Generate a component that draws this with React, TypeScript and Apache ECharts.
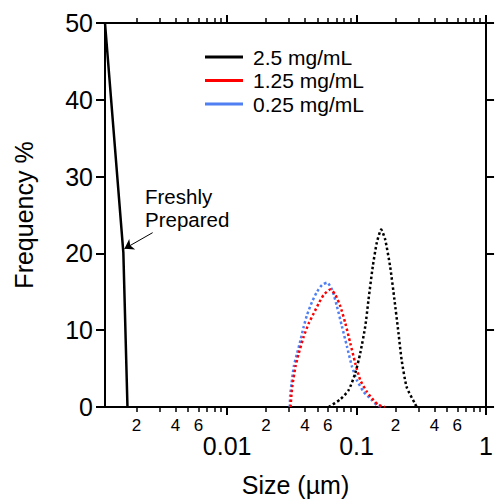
import React, { useEffect, useRef } from 'react';
import * as echarts from 'echarts';

const FONT = '"Liberation Sans", Arial, Helvetica, sans-serif';

// Axis ranges
const X_MIN = 0.00114;
const X_MAX = 1;
const Y_MIN = 0;
const Y_MAX = 50;
const Y_INTERVAL = 10;

// Tick values (log axis)
const minorTickValues = [
  0.002, 0.003, 0.004, 0.005, 0.006, 0.007, 0.008, 0.009,
  0.02, 0.03, 0.04, 0.05, 0.06, 0.07, 0.08, 0.09,
  0.2, 0.3, 0.4, 0.5, 0.6, 0.7, 0.8, 0.9,
];
const minorLabelValues = [0.002, 0.004, 0.006, 0.02, 0.04, 0.06, 0.2, 0.4, 0.6];
const majorTickValues = [0.01, 0.1, 1];

// Legend names
const names = ['2.5 mg/mL', '1.25 mg/mL', '0.25 mg/mL'];

// 2.5 mg/mL, freshly prepared (solid)
const freshSize = [0.00114, 0.00158, 0.0017];
const freshFreq = [50, 20.1, 0];

// 2.5 mg/mL, dotted black curve
const blackSize = [0.0609, 0.0749, 0.0868, 0.0977, 0.1067, 0.1167, 0.1237, 0.1334, 0.1433, 0.1549, 0.1663, 0.1816, 0.196, 0.2105, 0.223, 0.2438, 0.283, 0.291];
const blackFreq = [0, 1.0, 2.2, 4.4, 7.0, 10.5, 14, 18.3, 21.4, 23.1, 21.8, 18.3, 14, 9.7, 6.1, 2.6, 0.4, 0];

// 1.25 mg/mL (red dotted)
const redSize = [0.0309, 0.0313, 0.0318, 0.03378, 0.03579, 0.03911, 0.04273, 0.0467, 0.05101, 0.05574, 0.06277, 0.06859, 0.07492, 0.08187, 0.08944, 0.09772, 0.1068, 0.12, 0.1351, 0.1476, 0.165];
const redFreq = [0, 1.3, 2.6, 5.3, 7.0, 9.2, 10.9, 12.2, 13.5, 14.6, 15.3, 14.6, 13.1, 10.9, 8.3, 5.7, 3.5, 2.0, 0.9, 0.26, 0];

// 0.25 mg/mL (blue dotted)
const blueSize = [0.0305, 0.0307, 0.03147, 0.03277, 0.03474, 0.03689, 0.03911, 0.04147, 0.04532, 0.0495, 0.05409, 0.05909, 0.06457, 0.07055, 0.07707, 0.08423, 0.09202, 0.1005, 0.1132, 0.1311, 0.1433, 0.16];
const blueFreq = [0, 1.5, 3.1, 5.3, 7.0, 8.7, 10.5, 12.0, 13.7, 15.0, 15.9, 16.2, 15.3, 13.1, 10.5, 7.9, 5.3, 3.5, 2.0, 0.9, 0.26, 0];

// Annotation
const annotationText = 'Freshly\nPrepared';
const arrowFrom = [0.00266, 22.7];
const arrowTo = [0.00161, 20.6];

const zip = (xs: number[], ys: number[]) => xs.map((x, i) => [x, ys[i]]);

const mantissa = (v: number) => {
  const e = Math.floor(Math.log10(v) + 1e-9);
  return String(Math.round(v / Math.pow(10, e)));
};
const majorFmt = (v: number) => String(Number(Number(v).toPrecision(6)));

export default function App() {
  const ref = useRef<HTMLDivElement>(null);

  useEffect(() => {
    if (!ref.current) return;
    const chart = echarts.init(ref.current, undefined, { renderer: 'svg' });

    const xBase = {
      type: 'log' as const,
      logBase: 10,
      min: X_MIN,
      max: X_MAX,
      gridIndex: 0,
      splitLine: { show: false },
      minorTick: { show: false },
      minorSplitLine: { show: false },
    };
    const black = '#000';

    const option: any = {
      animation: false,
      backgroundColor: '#fff',
      grid: { left: 105, right: 7, top: 23, bottom: 97, containLabel: false },
      legend: {
        show: true,
        orient: 'vertical',
        left: 200,
        top: 41,
        itemWidth: 38,
        itemHeight: 3,
        itemGap: 1.5,
        icon: 'rect',
        selectedMode: false,
        textStyle: { fontSize: 21, color: black, fontFamily: FONT, lineHeight: 22, padding: [0, 0, 0, 5] },
        data: names,
      },
      xAxis: [
        {
          ...xBase,
          position: 'bottom',
          axisLine: { show: true, lineStyle: { color: black, width: 2 } },
          axisTick: { show: true, inside: false, length: 5, lineStyle: { color: black, width: 1.5 }, customValues: minorTickValues },
          axisLabel: { show: true, customValues: minorLabelValues, formatter: mantissa, fontSize: 17, color: black, fontFamily: FONT, margin: 10 },
          name: 'Size (µm)',
          nameLocation: 'middle',
          nameGap: 65,
          nameTextStyle: { fontSize: 25, color: black, fontFamily: FONT },
        },
        {
          ...xBase,
          position: 'bottom',
          axisLine: { show: false },
          axisTick: { show: true, inside: false, length: 8, lineStyle: { color: black, width: 2 }, customValues: majorTickValues },
          axisLabel: { show: true, customValues: majorTickValues, formatter: majorFmt, fontSize: 25, color: black, fontFamily: FONT, margin: 26 },
        },
        {
          ...xBase,
          position: 'top',
          axisLine: { show: true, lineStyle: { color: black, width: 2 } },
          axisTick: { show: true, inside: false, length: 5, lineStyle: { color: black, width: 1.5 }, customValues: minorTickValues },
          axisLabel: { show: false },
        },
        {
          ...xBase,
          position: 'top',
          axisLine: { show: false },
          axisTick: { show: true, inside: false, length: 8, lineStyle: { color: black, width: 2 }, customValues: majorTickValues },
          axisLabel: { show: false },
        },
      ],
      yAxis: [
        {
          type: 'value',
          min: Y_MIN,
          max: Y_MAX,
          interval: Y_INTERVAL,
          position: 'left',
          splitLine: { show: false },
          axisLine: { show: true, lineStyle: { color: black, width: 2 } },
          axisTick: { show: true, inside: false, length: 9, lineStyle: { color: black, width: 2 } },
          axisLabel: { show: true, fontSize: 25, color: black, fontFamily: FONT, margin: 12 },
          name: 'Frequency %',
          nameLocation: 'middle',
          nameGap: 69,
          nameRotate: 90,
          nameTextStyle: { fontSize: 25, color: black, fontFamily: FONT },
        },
        {
          type: 'value',
          min: Y_MIN,
          max: Y_MAX,
          interval: Y_INTERVAL,
          position: 'right',
          splitLine: { show: false },
          axisLine: { show: true, lineStyle: { color: black, width: 2 } },
          axisTick: { show: true, inside: false, length: 8, lineStyle: { color: black, width: 2 } },
          axisLabel: { show: false },
        },
      ],
      series: [
        {
          name: names[0],
          type: 'line',
          xAxisIndex: 0,
          yAxisIndex: 0,
          data: zip(freshSize, freshFreq),
          showSymbol: false,
          symbol: 'none',
          itemStyle: { color: black },
          lineStyle: { color: black, width: 2.5, type: 'solid' },
          markLine: {
            silent: true,
            symbol: ['none', 'arrow'],
            symbolSize: 9,
            label: { show: false },
            lineStyle: { color: black, width: 1, type: 'solid' },
            data: [[{ coord: arrowFrom }, { coord: arrowTo }]],
          },
          z: 5,
        },
        {
          name: names[2],
          type: 'line',
          xAxisIndex: 0,
          yAxisIndex: 0,
          data: zip(blueSize, blueFreq),
          showSymbol: false,
          symbol: 'none',
          smooth: 0.2,
          itemStyle: { color: '#4f7ff2' },
          lineStyle: { color: '#4f7ff2', width: 2.5, type: 'dotted' },
          z: 2,
        },
        {
          name: names[1],
          type: 'line',
          xAxisIndex: 0,
          yAxisIndex: 0,
          data: zip(redSize, redFreq),
          showSymbol: false,
          symbol: 'none',
          smooth: 0.2,
          itemStyle: { color: '#ff0000' },
          lineStyle: { color: '#ff0000', width: 2.5, type: 'dotted' },
          z: 3,
        },
        {
          name: names[0],
          type: 'line',
          xAxisIndex: 0,
          yAxisIndex: 0,
          data: zip(blackSize, blackFreq),
          showSymbol: false,
          symbol: 'none',
          smooth: 0.2,
          itemStyle: { color: black },
          lineStyle: { color: black, width: 2.5, type: 'dotted' },
          z: 4,
        },
      ],
      graphic: [
        {
          type: 'text',
          left: 145,
          top: 185,
          style: { text: annotationText, fontSize: 20.5, lineHeight: 23, fill: black, fontFamily: FONT },
        },
      ],
    };

    chart.setOption(option);
    return () => chart.dispose();
  }, []);

  return (
    <div
      ref={ref}
      style={{ position: 'fixed', left: 0, top: 0, width: 496, height: 504, background: '#fff' }}
    />
  );
}
